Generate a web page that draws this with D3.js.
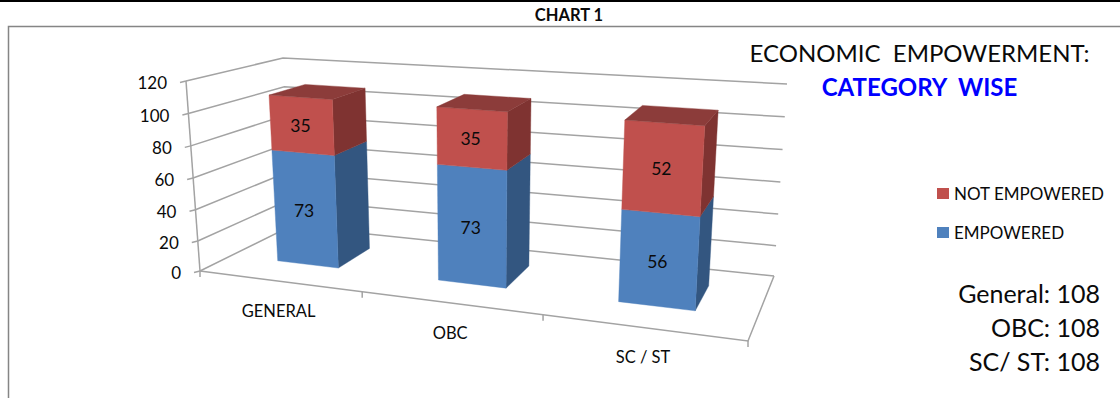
<!DOCTYPE html>
<html>
<head>
<meta charset="utf-8">
<style>
  html, body { margin: 0; padding: 0; background: #fff; }
  svg { display: block; }
  text { font-family: Lato, "Open Sans", sans-serif; fill: #0a0a0a; white-space: pre; }
</style>
<script src="https://cdn.jsdelivr.net/npm/d3@7"></script>
</head>
<body>
<svg id="chart" width="1120" height="398"></svg>
<script>
// Stacked 3D columns: economic empowerment by social category
const categories = ["GENERAL", "OBC", "SC / ST"];
const empowered = [73, 73, 56];
const notEmpowered = [35, 35, 52];
const valueTicks = [0, 20, 40, 60, 80, 100, 120];
const legendLabels = ["NOT EMPOWERED", "EMPOWERED"];
const totalLabels = ["General: 108", "OBC: 108", "SC/ ST: 108"];

const RED = { front: "#c0504d", side: "#7f3331", top: "#8c3c3a" };
const BLUE = { front: "#4f81bd", side: "#335680" };
const GRID = "#a3a3a3";

const svg = d3.select("#chart");

// Box corners of the plot volume in screen space
const box = {
  front0: { l: [200, 271], r: [748, 341] },
  front1: { l: [186, 81], r: [762, 122] },
  back0: { l: [291, 226], r: [774, 276] },
  back1: { l: [283, 58], r: [787, 84] }
};

// Category axis narrows slightly with distance, so its bands are unequal
const catScale = d3.scaleLinear().domain([0, 1, 2, 3]).range([0, 0.296, 0.626, 1]);
const valueScale = d3.scalePow().exponent(1.03).domain([0, 120]).range([0, 1]);
const mix = (a, b, t) => [a[0] + (b[0] - a[0]) * t, a[1] + (b[1] - a[1]) * t];

// Maps (category position, depth 0..1, value) onto the page
function project(c, d, v) {
  const u = catScale(c), t = valueScale(v);
  const edge = k => mix(box[k].l, box[k].r, u);
  const front = mix(edge("front0"), edge("front1"), t);
  const back = mix(edge("back0"), edge("back1"), t);
  return mix(front, back, d);
}

const line = d3.line();
const polyline = (pts, width = 1.5, color = GRID) => svg.append("path")
  .attr("d", line(pts)).attr("fill", "none")
  .attr("stroke", color).attr("stroke-width", width);

// Page furniture
svg.append("rect").attr("x", 0).attr("y", 0).attr("width", 1120).attr("height", 2).attr("fill", "#000");
polyline([[8.5, 398], [8.5, 26.5], [1120, 26.5]], 1.5, "#858585");
svg.append("text").attr("x", 569).attr("y", 20.5).attr("text-anchor", "middle")
  .attr("font-size", 16.5).attr("font-weight", 700).text("CHART 1");

// Gridlines across the left and back walls
valueTicks.forEach(v => {
  polyline([project(0, 0, v), project(0, 1, v), project(3, 1, v)]);
  const a = project(0, 0, v);
  polyline([[a[0] - 6, a[1] + 1.5], a]);
  svg.append("text").attr("x", a[0] - 19).attr("y", a[1] + 8)
    .attr("text-anchor", "end").attr("font-size", 17).text(v);
});

// Left axis, floor edges and category ticks
polyline([project(0, 0, 0), project(0, 0, 120)]);
polyline([project(0, 0, 0), project(3, 0, 0), project(3, 1, 0)]);
d3.range(0, 4).forEach(c => {
  const p = project(c, 0, 0);
  polyline([p, [p[0], p[1] + 6]]);
});

// Columns: each takes about 40% of its band, set near the band's middle
const BAR_LEFT = 0.295, BAR_WIDTH = 0.39, D0 = 0.35, D1 = 0.75;
const stacks = d3.stack().keys(["e", "n"])(
  categories.map((_, i) => ({ e: empowered[i], n: notEmpowered[i] }))
);
const face = (pts, fill) => svg.append("path")
  .attr("d", line(pts) + "Z").attr("fill", fill).attr("stroke", fill).attr("stroke-width", 0.4);

categories.forEach((name, i) => {
  const c0 = i + BAR_LEFT, c1 = c0 + BAR_WIDTH;
  stacks.forEach((layer, s) => {
    const [v0, v1] = layer[i];
    const col = s === 0 ? BLUE : RED;
    face([project(c1, D0, v0), project(c1, D1, v0), project(c1, D1, v1), project(c1, D0, v1)], col.side);
    face([project(c0, D0, v0), project(c1, D0, v0), project(c1, D0, v1), project(c0, D0, v1)], col.front);
    if (s === 1) {
      face([project(c0, D0, v1), project(c1, D0, v1), project(c1, D1, v1), project(c0, D1, v1)], col.top);
    }
  });
  stacks.forEach(layer => {
    const [v0, v1] = layer[i];
    const p = project((c0 + c1) / 2, D0, (v0 + v1) / 2);
    svg.append("text").attr("x", p[0] - 1.5).attr("y", p[1] + 7)
      .attr("text-anchor", "middle").attr("font-size", 17.5).text(v1 - v0);
  });
  const b = project(i + 0.5, 0, 0);
  svg.append("text").attr("x", b[0] - 2.5).attr("y", b[1] + 35.5)
    .attr("text-anchor", "middle").attr("font-size", 16.5).text(name);
});

// Heading
svg.append("text").attr("x", 919.5).attr("y", 62).attr("text-anchor", "middle")
  .attr("font-size", 24).text("ECONOMIC  EMPOWERMENT:");
svg.append("text").attr("x", 919.5).attr("y", 96).attr("text-anchor", "middle")
  .attr("font-size", 24).attr("font-weight", 700).style("fill", "#0000ff").text("CATEGORY  WISE");

// Legend
legendLabels.forEach((label, i) => {
  const y = d3.scalePoint().domain(legendLabels).range([193.5, 232.5])(label);
  svg.append("rect").attr("x", 937).attr("y", y - 5.5).attr("width", 12).attr("height", 11)
    .attr("fill", i === 0 ? RED.front : BLUE.front);
  svg.append("text").attr("x", 954).attr("y", y + 6).attr("font-size", 17).text(label);
});

// Group sizes
const totalY = d3.scalePoint().domain(totalLabels).range([303, 371]);
totalLabels.forEach(t => {
  svg.append("text").attr("x", 1100).attr("y", totalY(t)).attr("text-anchor", "end")
    .attr("font-size", 25).text(t);
});
</script>
</body>
</html>
